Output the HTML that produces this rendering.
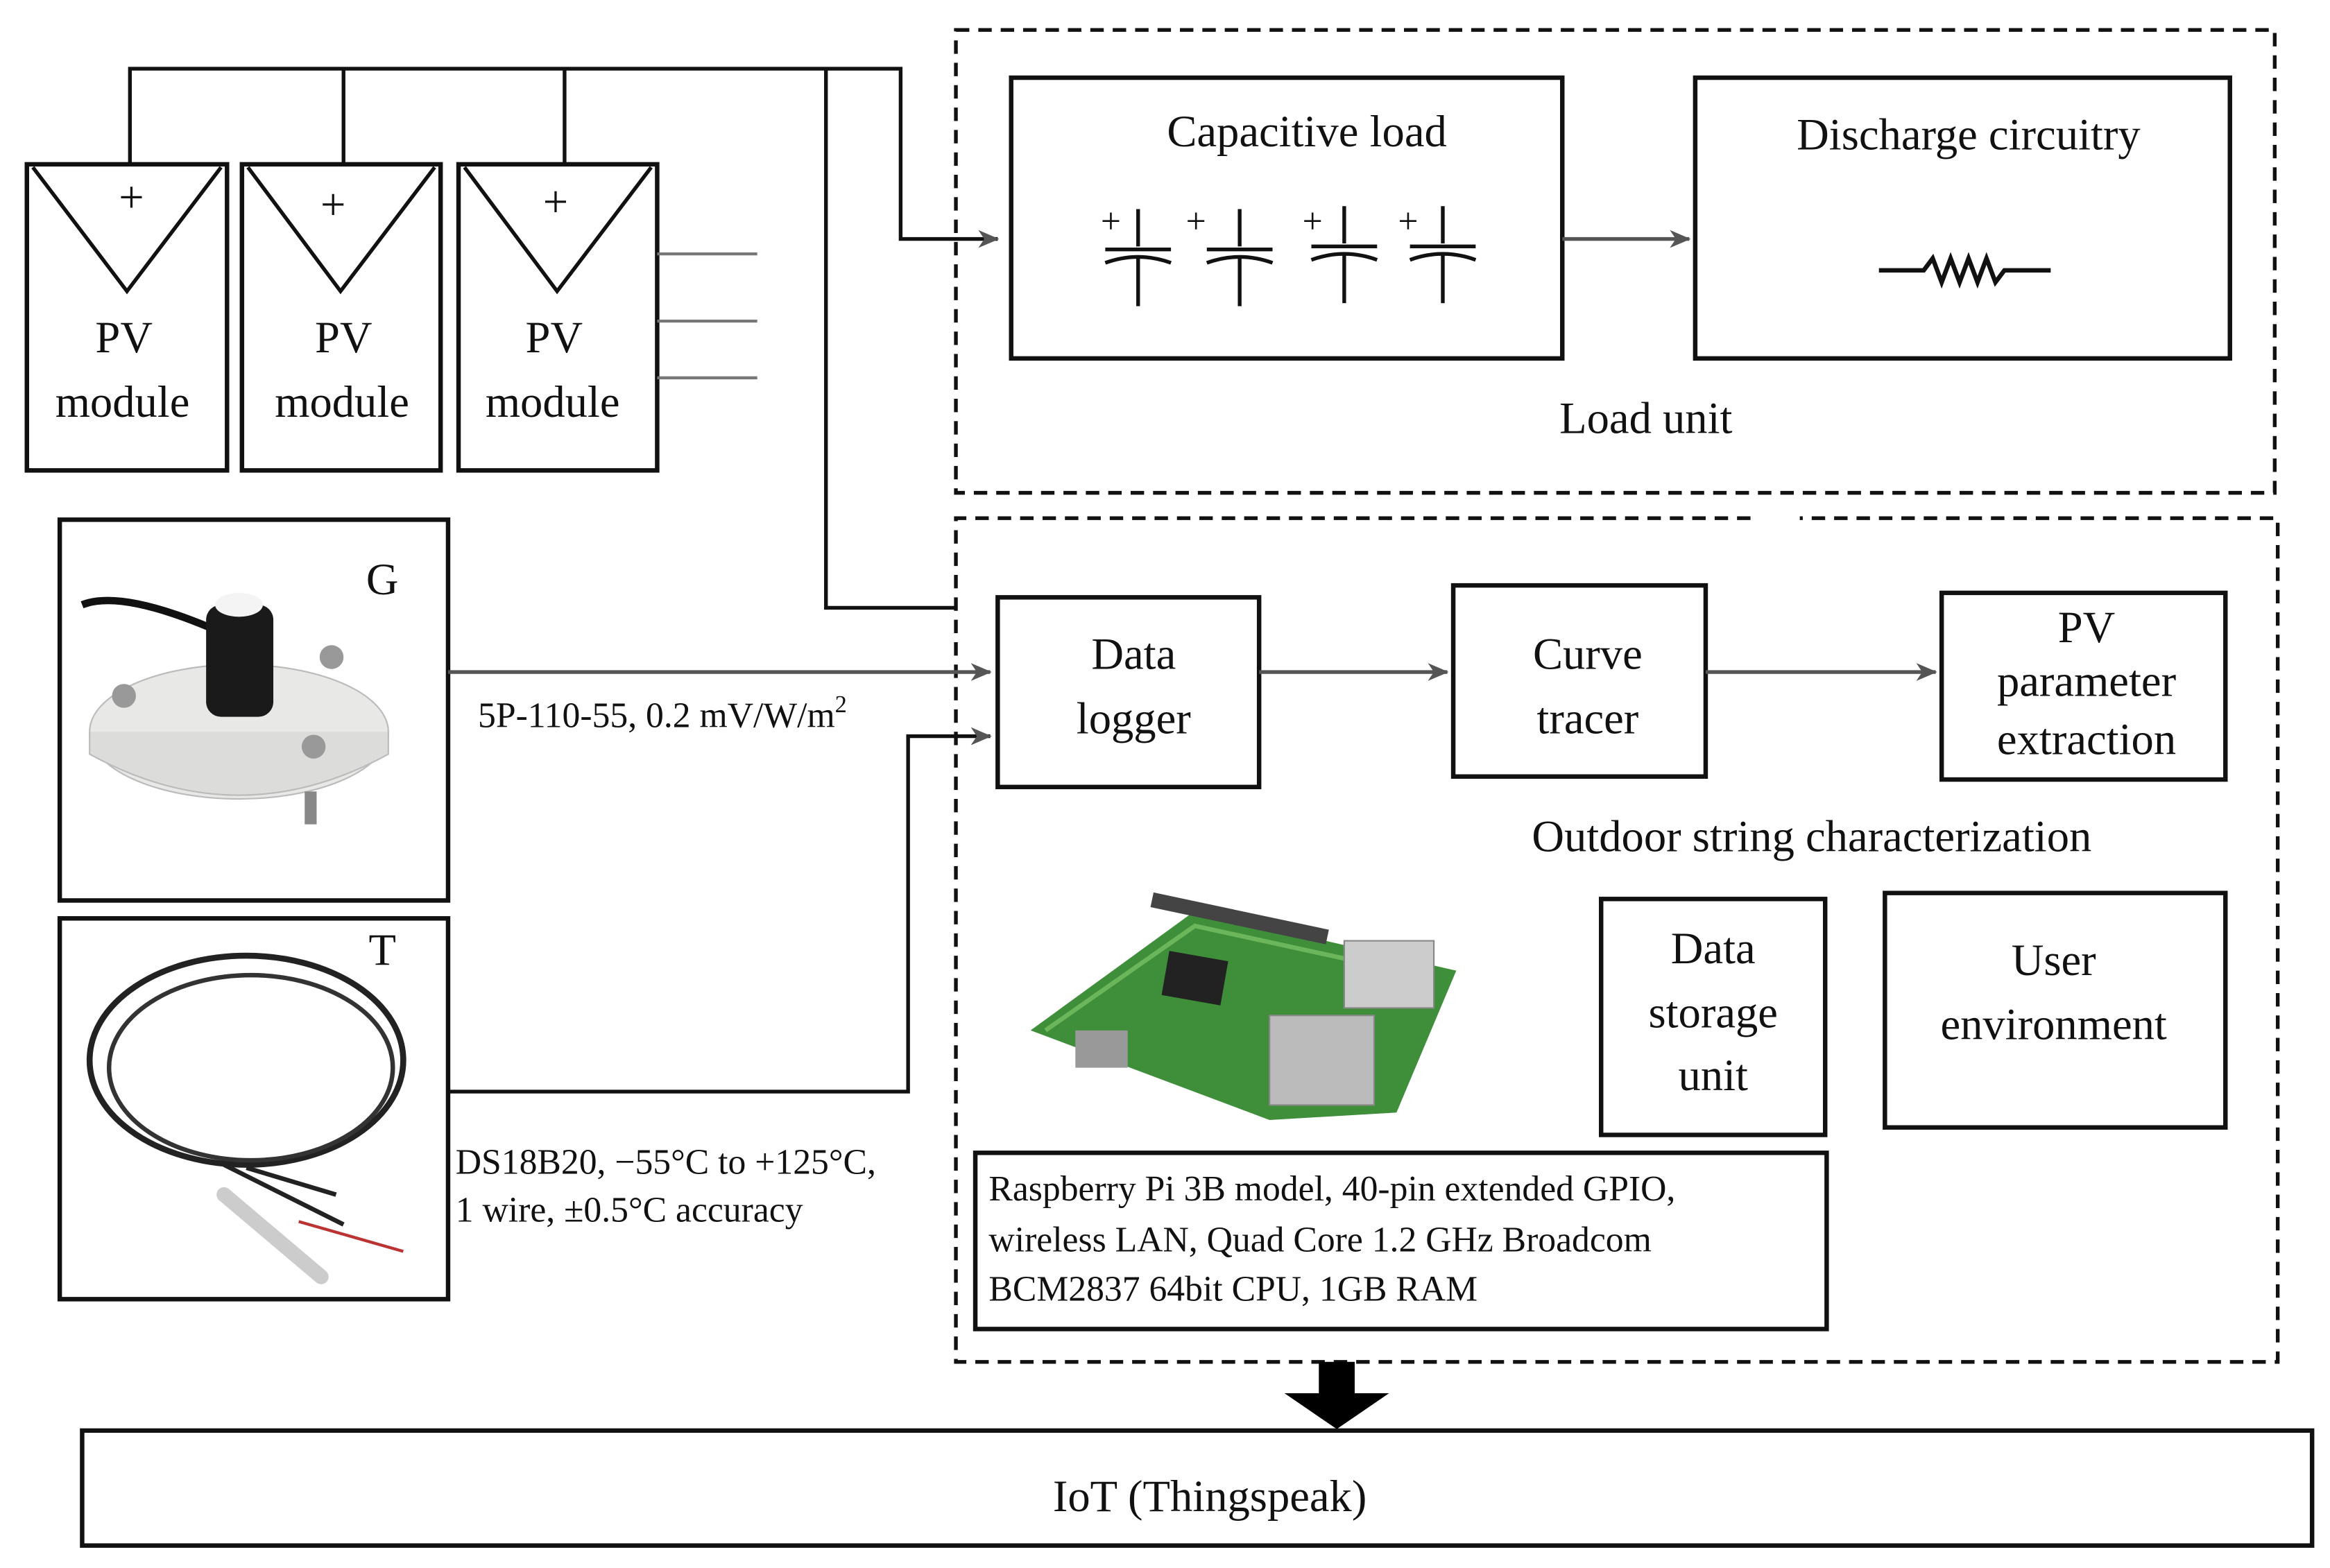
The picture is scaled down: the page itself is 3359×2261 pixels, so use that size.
<!DOCTYPE html>
<html><head><meta charset="utf-8"><style>
html,body{margin:0;padding:0;background:#fff;}
svg{display:block;}
text{font-family:"Liberation Serif",serif;fill:#111;}
</style></head><body>
<svg width="3359" height="2261" viewBox="0 0 1560 1050" xmlns="http://www.w3.org/2000/svg">
<defs>
<marker id="ar" markerWidth="14" markerHeight="12" refX="13" refY="6" orient="auto" markerUnits="userSpaceOnUse">
<path d="M0,0 L14,6 L0,12 L4,6 Z" fill="#555"/>
</marker>
</defs>
<g fill="none" stroke="#111" stroke-width="3">
<!-- top bus -->
<path d="M87,110 V46 H603 V160 H668" marker-end="url(#ar)" stroke-width="2.5"/>
<path d="M230,110 V46 M378,110 V46" stroke-width="2.5"/>
<path d="M553,46 V407 H640" stroke-width="2.5"/>
<!-- PV modules -->
<rect x="18" y="110" width="134" height="205"/>
<rect x="162" y="110" width="133" height="205"/>
<rect x="307" y="110" width="133" height="205"/>
<path d="M22,112 L85,195 L148,112 M166,112 L228,195 L291,112 M311,112 L373,195 L436,112" stroke-width="2.5"/>
<path d="M440,170 H507 M440,215 H507 M440,253 H507" stroke="#777" stroke-width="2"/>
<!-- dashed -->
<path d="M640,20 H1523 V330 H640 Z" stroke-dasharray="9,6" stroke-width="2.5"/>
<path d="M1172,347 H640 V912 H1525 V347 H1205" stroke-dasharray="9,6" stroke-width="2.5"/>
<rect x="677" y="52" width="369" height="188"/>
<rect x="1135" y="52" width="358" height="188"/>
<path d="M1046,160 H1131" stroke="#555" stroke-width="2.5" marker-end="url(#ar)"/>
<!-- capacitors -->
<g stroke-width="2.5">
<path d="M762,140 V165 M740,167 H784 M740,176 Q762,168 784,176 M762,172 V205"/>
<path d="M830,140 V165 M808,167 H852 M808,176 Q830,168 852,176 M830,172 V205"/>
<path d="M900,138 V163 M878,165 H922 M878,174 Q900,166 922,174 M900,170 V203"/>
<path d="M966,138 V163 M944,165 H988 M944,174 Q966,166 988,174 M966,170 V203"/>
<path d="M1258,181 H1288 L1294,173 L1300,189 L1306,173 L1312,189 L1318,173 L1324,189 L1330,173 L1336,189 L1342,181 H1373" stroke-width="3"/>
</g>
<!-- sensors -->
<rect x="40" y="348" width="260" height="255"/>
<rect x="40" y="615" width="260" height="255"/>
<path d="M300,450 H663" stroke="#555" stroke-width="2.5" marker-end="url(#ar)"/>
<path d="M300,731 H608 V493 H663" stroke-width="2.5" marker-end="url(#ar)"/>
<!-- characterization -->
<rect x="668" y="400" width="175" height="127"/>
<rect x="973" y="392" width="169" height="128"/>
<rect x="1300" y="397" width="190" height="125"/>
<path d="M843,450 H969" stroke="#555" stroke-width="2.5" marker-end="url(#ar)"/>
<path d="M1142,450 H1296" stroke="#555" stroke-width="2.5" marker-end="url(#ar)"/>
<rect x="1072" y="602" width="150" height="158"/>
<rect x="1262" y="598" width="228" height="157"/>
<rect x="653" y="772" width="570" height="118"/>
<rect x="55" y="958" width="1493" height="77"/>
</g>
<!-- big arrow -->
<path d="M883,912 H907 V933 H930 L895,957 L860,933 H883 Z" fill="#000"/>
<!-- G sensor picture -->
<ellipse cx="160" cy="490" rx="100" ry="45" fill="#e8e8e6" stroke="#bbb"/>
<path d="M60,490 V505 Q160,560 260,505 V490" fill="#dcdcda" stroke="#bbb"/>
<path d="M55,405 Q80,395 140,420" fill="none" stroke="#111" stroke-width="5"/>
<rect x="138" y="405" width="45" height="75" rx="10" fill="#1a1a1a"/>
<ellipse cx="160" cy="405" rx="16" ry="8" fill="#f4f4f4"/>
<circle cx="83" cy="466" r="8" fill="#999"/><circle cx="222" cy="440" r="8" fill="#999"/><circle cx="210" cy="500" r="8" fill="#999"/>
<rect x="204" y="530" width="8" height="22" fill="#888"/>
<!-- T cable -->
<ellipse cx="165" cy="710" rx="105" ry="70" fill="none" stroke="#222" stroke-width="4"/>
<ellipse cx="168" cy="715" rx="95" ry="62" fill="none" stroke="#333" stroke-width="3"/>
<path d="M150,780 L230,820 M165,782 L225,800" stroke="#222" stroke-width="3"/>
<path d="M200,818 L270,838" stroke="#b33" stroke-width="2"/>
<path d="M150,800 L215,855" stroke="#ccc" stroke-width="10" stroke-linecap="round"/>
<!-- raspberry pi -->
<path d="M690,690 L800,610 L975,650 L935,745 L850,750 Z" fill="#3f8f3a"/>
<path d="M700,690 L800,620 L960,655" fill="none" stroke="#6bb55a" stroke-width="3"/>
<rect x="780" y="640" width="40" height="30" fill="#222" transform="rotate(10 800 655)"/>
<rect x="850" y="680" width="70" height="60" fill="#bbb" stroke="#888"/>
<rect x="900" y="630" width="60" height="45" fill="#ccc" stroke="#888"/>
<rect x="770" y="610" width="120" height="10" fill="#444" transform="rotate(12 830 615)"/>
<rect x="720" y="690" width="35" height="25" fill="#999"/>
<!-- texts -->
<g font-size="30" text-anchor="middle">
<text x="88" y="142">+</text><text x="223" y="147">+</text><text x="372" y="145">+</text>
<text x="83" y="236">PV</text><text x="82" y="279">module</text>
<text x="230" y="236">PV</text><text x="229" y="279">module</text>
<text x="371" y="236">PV</text><text x="370" y="279">module</text>
<text x="875" y="98">Capacitive load</text>
<text x="1318" y="100">Discharge circuitry</text>
<text x="1102" y="290">Load unit</text>
<text x="256" y="398">G</text>
<text x="256" y="646">T</text>
<text x="759" y="448">Data</text><text x="759" y="491">logger</text>
<text x="1063" y="448">Curve</text><text x="1063" y="491">tracer</text>
<text x="1397" y="430">PV</text><text x="1397" y="466">parameter</text><text x="1397" y="505">extraction</text>
<text x="1213" y="570">Outdoor string characterization</text>
<text x="1147" y="645">Data</text><text x="1147" y="688">storage</text><text x="1147" y="730">unit</text>
<text x="1375" y="653">User</text><text x="1375" y="696">environment</text>
<text x="810" y="1012">IoT (Thingspeak)</text>
</g>
<g font-size="24">
<text x="737" y="156">+</text><text x="794" y="156">+</text><text x="872" y="156">+</text><text x="936" y="156">+</text>
<text x="320" y="487">5P-110-55, 0.2 mV/W/m<tspan font-size="16" dy="-10">2</tspan></text>
<text x="305" y="786">DS18B20, −55°C to +125°C,</text>
<text x="305" y="818">1 wire, ±0.5°C accuracy</text>
<text x="662" y="804">Raspberry Pi 3B model, 40-pin extended GPIO,</text>
<text x="662" y="838">wireless LAN, Quad Core 1.2 GHz Broadcom</text>
<text x="662" y="871">BCM2837 64bit CPU, 1GB RAM</text>
</g>
</svg>
</body></html>
